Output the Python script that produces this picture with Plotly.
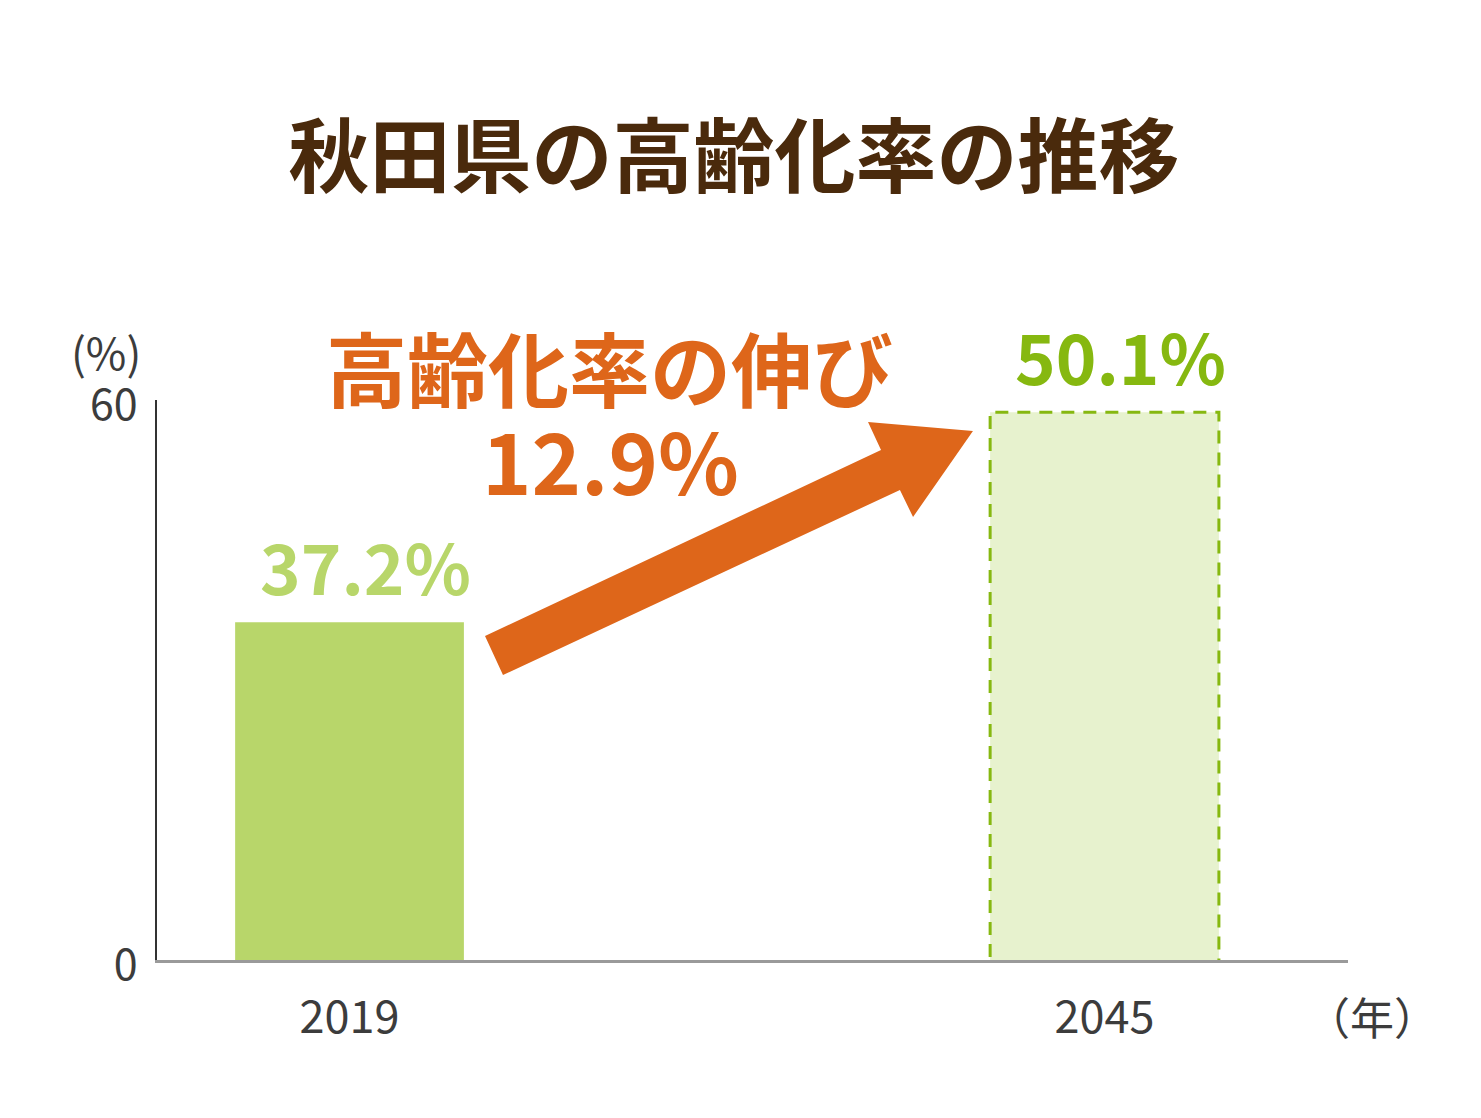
import plotly.graph_objects as go

# data
years = ["2019", "2045"]
rates = [37.2, 50.1]          # labelled values (%)
bar_heights = [36.2, 58.7]    # heights as drawn in the original (illustrative, not to scale)
growth_label = "12.9%"

y_ticks = [0, 60]

FONT = "Noto Sans CJK JP"
ORANGE = "#DE661A"
BROWN = "#4A2A0C"
GREEN_LIGHT = "#B8D66A"
GREEN_DARK = "#86B810"
FILL_2045 = "#E7F2CE"
TEXT = "#3C3C3C"

# the page body adds an 8px margin, so the figure is made that much smaller
OFF = 8
W, H = 1481 - OFF, 1118 - OFF
L, R, T, B = 157 - OFF, 133, 400 - OFF, 158
plot_w = W - L - R
plot_h = H - T - B

xs = list(range(len(years)))
bar_w = 0.303
x_range = [-0.255, 1.3225]


def px_to_paper(px, py):
    # screenshot pixel -> paper coords
    return (px - OFF - L) / plot_w, (H - B - (py - OFF)) / plot_h


def add_text(px, py, text, size, color, bold=False):
    x, y = px_to_paper(px, py)
    fig.add_annotation(x=x, y=y, xref="paper", yref="paper", text=text,
                       showarrow=False, xanchor="center", yanchor="middle",
                       font=dict(family=FONT, size=size, color=color,
                                 weight="bold" if bold else "normal"))


fig = go.Figure()

# 2019 actual bar (solid), 2045 projection (pale fill + dashed outline)
fig.add_trace(go.Bar(
    x=xs, y=bar_heights, width=bar_w,
    marker=dict(color=[GREEN_LIGHT, FILL_2045], line=dict(width=0)),
    hoverinfo="skip",
))

# dashed border for the projected bar
fig.add_shape(
    type="rect", xref="x", yref="y",
    x0=xs[1] - bar_w / 2, x1=xs[1] + bar_w / 2,
    y0=-0.3, y1=bar_heights[1],
    line=dict(color=GREEN_DARK, width=3, dash="13px,9px"),
    fillcolor="rgba(0,0,0,0)", layer="above",
)

# value labels above bars
label_colors = [GREEN_LIGHT, GREEN_DARK]
for x, h, r, c in zip(xs, bar_heights, rates, label_colors):
    fig.add_annotation(
        x=x, y=h, xref="x", yref="y", text=f"{r}%",
        showarrow=False, yanchor="bottom", yshift=5, xshift=16,
        font=dict(family=FONT, size=69, color=c, weight="bold"),
    )

# big orange arrow (pixel outline converted to paper coords)
arrow_px = [(485, 636), (881, 450), (868, 422), (973, 431),
            (913, 517), (900, 490), (503, 675)]
pts = [px_to_paper(*p) for p in arrow_px]
path = "M " + " L ".join(f"{x:.4f},{y:.4f}" for x, y in pts) + " Z"
fig.add_shape(type="path", xref="paper", yref="paper", path=path,
              fillcolor=ORANGE, line=dict(width=0))

# growth text
add_text(609, 365, "高齢化率の伸び", 81, ORANGE, bold=True)
add_text(610, 458, growth_label, 84, ORANGE, bold=True)

# unit labels
add_text(106, 351, "(%)", 44, TEXT)
add_text(1372, 1016, "（年）", 44, TEXT)

tx, _ = px_to_paper(734, 0)
fig.update_layout(
    width=W, height=H,
    margin=dict(l=L, r=R, t=T, b=B),
    paper_bgcolor="white", plot_bgcolor="white",
    showlegend=False,
    title=dict(text="秋田県の高齢化率の推移", x=tx, xanchor="center",
               y=1 - (158 - OFF) / H, yanchor="middle", xref="paper",
               font=dict(family=FONT, size=81, color=BROWN, weight="bold")),
    xaxis=dict(
        range=x_range, tickvals=xs, ticktext=years,
        showline=True, linecolor="#9A9A9A", linewidth=2.5,
        showgrid=False, zeroline=False, ticks="",
        ticklabelstandoff=16,
        tickfont=dict(family=FONT, size=45, color=TEXT),
        fixedrange=True,
    ),
    yaxis=dict(
        range=[0, 60], tickvals=y_ticks,
        showline=True, linecolor="#333333", linewidth=1.5,
        showgrid=False, zeroline=False, ticks="",
        ticklabelstandoff=9, ticklabelshift=5,
        tickfont=dict(family=FONT, size=43, color=TEXT),
        fixedrange=True,
    ),
)

fig.write_html("out.html")
